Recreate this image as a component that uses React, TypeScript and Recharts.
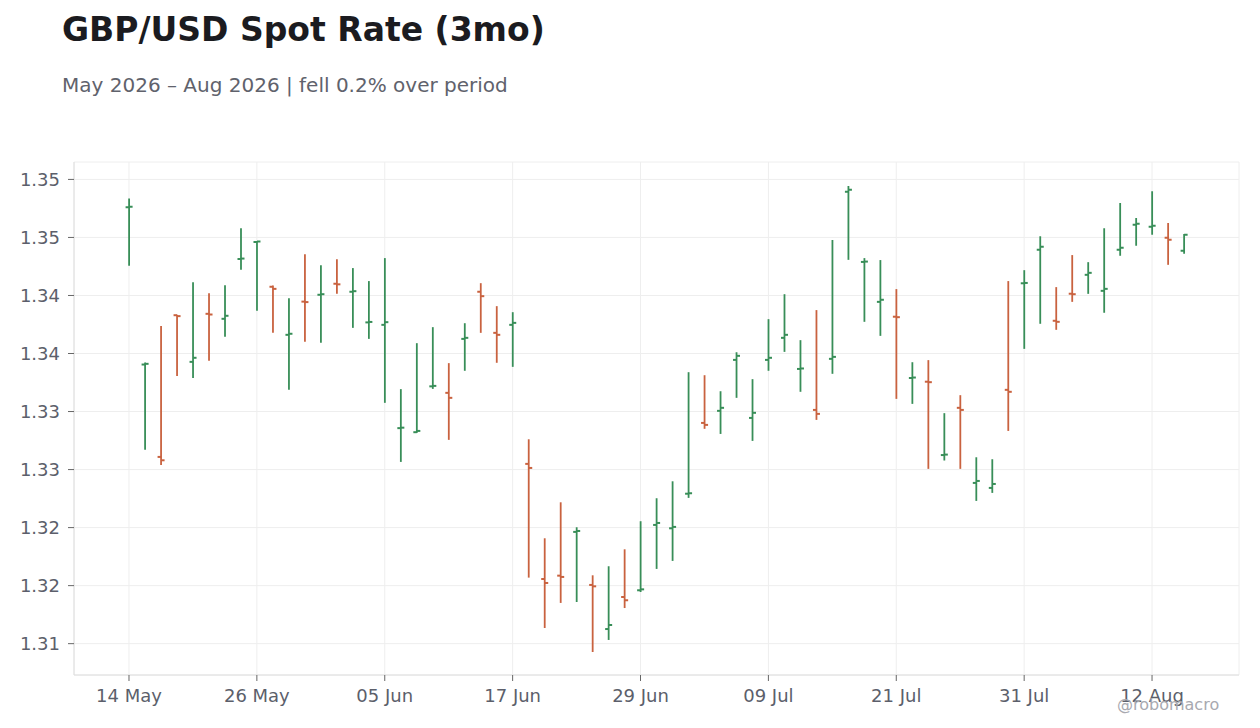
import { Bar, CartesianGrid, ComposedChart, XAxis, YAxis } from "recharts"

// business days, 14 May - 14 Aug 2026
const days = [
  "14 May", "15 May", "18 May", "19 May", "20 May", "21 May", "22 May", "25 May",
  "26 May", "27 May", "28 May", "29 May", "01 Jun", "02 Jun", "03 Jun", "04 Jun",
  "05 Jun", "08 Jun", "09 Jun", "10 Jun", "11 Jun", "12 Jun", "15 Jun", "16 Jun",
  "17 Jun", "18 Jun", "19 Jun", "22 Jun", "23 Jun", "24 Jun", "25 Jun", "26 Jun",
  "29 Jun", "30 Jun", "01 Jul", "02 Jul", "03 Jul", "06 Jul", "07 Jul", "08 Jul",
  "09 Jul", "10 Jul", "13 Jul", "14 Jul", "15 Jul", "16 Jul", "17 Jul", "20 Jul",
  "21 Jul", "22 Jul", "23 Jul", "24 Jul", "27 Jul", "28 Jul", "29 Jul", "30 Jul",
  "31 Jul", "03 Aug", "04 Aug", "05 Aug", "06 Aug", "07 Aug", "10 Aug", "11 Aug",
  "12 Aug", "13 Aug", "14 Aug",
]

const opens = [
  1.3476, 1.33405, 1.32609, 1.3383, 1.33428, 1.33842, 1.33799, 1.34314,
  1.3446, 1.34075, 1.33661, 1.33947, 1.34006, 1.34101, 1.34032, 1.33768,
  1.33747, 1.32857, 1.32822, 1.33217, 1.33161, 1.33626, 1.34032, 1.33678,
  1.33747, 1.32549, 1.31557, 1.31586, 1.31963, 1.31506, 1.31126, 1.31402,
  1.3146, 1.32023, 1.31994, 1.32292, 1.32902, 1.33006, 1.33445, 1.32945,
  1.33445, 1.33635, 1.33367, 1.33014, 1.33454, 1.34894, 1.34289, 1.33945,
  1.33817, 1.33289, 1.33257, 1.32625, 1.33032, 1.32385, 1.32342, 1.33187,
  1.34105, 1.34394, 1.33782, 1.34015, 1.34178, 1.3404, 1.34394, 1.34609,
  1.34592, 1.34497, 1.34385,
]

const highs = [
  1.34836, 1.33422, 1.33736, 1.33833, 1.34115, 1.3402, 1.34089, 1.3458,
  1.34466, 1.34086, 1.33977, 1.34356, 1.34261, 1.34313, 1.34236, 1.34124,
  1.34322, 1.33193, 1.33589, 1.33727, 1.33417, 1.33761, 1.34106, 1.33908,
  1.33856, 1.32761, 1.31908, 1.32218, 1.32003, 1.31589, 1.31667, 1.31813,
  1.32055, 1.32253, 1.32399, 1.33339, 1.33313, 1.33175, 1.33511, 1.33279,
  1.33796, 1.34011, 1.33615, 1.33874, 1.34477, 1.34943, 1.34322, 1.34305,
  1.34055, 1.33425, 1.33443, 1.32986, 1.33141, 1.32606, 1.32589, 1.34124,
  1.34218, 1.34511, 1.34072, 1.34348, 1.34287, 1.3458, 1.34796, 1.34667,
  1.34899, 1.34624, 1.34529,
]

const lows = [
  1.34256, 1.3267, 1.3254, 1.33307, 1.3329, 1.33437, 1.33644, 1.34221,
  1.33868, 1.33678, 1.33187, 1.33601, 1.33592, 1.34014, 1.33721, 1.33626,
  1.33075, 1.32566, 1.32816, 1.33195, 1.32756, 1.33351, 1.33678, 1.3342,
  1.33385, 1.31569, 1.31135, 1.31351, 1.31359, 1.30928, 1.31032, 1.31307,
  1.31445, 1.31644, 1.31713, 1.32256, 1.32851, 1.32807, 1.33118, 1.32747,
  1.33351, 1.33514, 1.3317, 1.32928, 1.33325, 1.34307, 1.33773, 1.33652,
  1.33109, 1.33066, 1.32506, 1.32578, 1.32506, 1.3223, 1.32299, 1.32833,
  1.3354, 1.33756, 1.33704, 1.33945, 1.34014, 1.33851, 1.34342, 1.34428,
  1.34523, 1.34264, 1.34359,
]

const closes = [
  1.34765, 1.33411, 1.3258, 1.33822, 1.33463, 1.33836, 1.33825, 1.34318,
  1.34465, 1.34057, 1.3367, 1.33943, 1.34011, 1.34096, 1.34037, 1.33772,
  1.3377, 1.32861, 1.32833, 1.33221, 1.33118, 1.33635, 1.33994, 1.33661,
  1.33764, 1.32514, 1.31523, 1.31575, 1.31971, 1.31494, 1.31161, 1.31374,
  1.31468, 1.3204, 1.32006, 1.32296, 1.32885, 1.33032, 1.3348, 1.32989,
  1.33463, 1.33661, 1.33371, 1.3298, 1.33471, 1.34911, 1.34292, 1.33963,
  1.33813, 1.33293, 1.33253, 1.32629, 1.33014, 1.32402, 1.32376, 1.3317,
  1.34108, 1.3442, 1.33773, 1.34011, 1.34195, 1.34057, 1.34411, 1.34618,
  1.34601, 1.3448, 1.34523,
]

const xTicks = ["14 May", "26 May", "05 Jun", "17 Jun", "29 Jun", "09 Jul", "21 Jul", "31 Jul", "12 Aug"]
const yTicks = [1.31, 1.315, 1.32, 1.325, 1.33, 1.335, 1.34, 1.345, 1.35]
const yTickLabels = ["1.31", "1.32", "1.32", "1.33", "1.33", "1.34", "1.34", "1.35", "1.35"]

const UP = "#388e58"
const DOWN = "#c9623f"
const TEXT = "#5c5f6b"
const BORDER = "#dedede"

const data = days.map((day, i) => ({
  day,
  open: opens[i],
  high: highs[i],
  low: lows[i],
  close: closes[i],
  range: [lows[i], highs[i]],
}))

function OhlcShape(props: any) {
  const { x, y, width, height, payload } = props
  if (!payload) return null
  const top = Math.min(y, y + height)
  const bottom = Math.max(y, y + height)
  const cx = x + width / 2
  const span = payload.high - payload.low
  const toY = (v: number) => top + ((payload.high - v) / span) * (bottom - top)
  const color = payload.close >= payload.open ? UP : DOWN
  const yo = toY(payload.open)
  const yc = toY(payload.close)
  return (
    <g stroke={color}>
      <line x1={cx} x2={cx} y1={top} y2={bottom} strokeWidth={1.8} />
      <line x1={cx - 3.5} x2={cx} y1={yo} y2={yo} strokeWidth={2} />
      <line x1={cx} x2={cx + 3.5} y1={yc} y2={yc} strokeWidth={2} />
    </g>
  )
}

export default function App() {
  return (
    <div
      style={{
        position: "fixed",
        top: 0,
        left: 0,
        width: 1260,
        height: 728,
        background: "#ffffff",
        fontFamily: "'DejaVu Sans', sans-serif",
      }}
    >
      <div
        style={{
          position: "absolute",
          left: 62,
          top: 13,
          fontSize: 33,
          lineHeight: 1,
          fontWeight: "bold",
          color: "#1b1b20",
          whiteSpace: "nowrap",
        }}
      >
        GBP/USD Spot Rate (3mo)
      </div>
      <div
        style={{
          position: "absolute",
          left: 62,
          top: 75,
          fontSize: 20,
          lineHeight: 1,
          color: "#60626c",
          whiteSpace: "nowrap",
        }}
      >
        May 2026 – Aug 2026 | fell 0.2% over period
      </div>
      <ComposedChart
        width={1260}
        height={728}
        data={data}
        margin={{ top: 162, right: 21, bottom: 23, left: 14 }}
        style={{ position: "absolute", top: 0, left: 0 }}
      >
        <CartesianGrid stroke="#eeeeee" />
        <XAxis
          dataKey="day"
          type="category"
          ticks={xTicks}
          interval={0}
          padding={{ left: 47, right: 47 }}
          height={30}
          tick={{ fill: TEXT, fontSize: 18 }}
          tickSize={6}
          tickMargin={8}
          tickLine={{ stroke: "#666" }}
          axisLine={{ stroke: BORDER }}
        />
        <XAxis
          xAxisId="top"
          dataKey="day"
          orientation="top"
          height={0}
          tick={false}
          tickLine={false}
          axisLine={{ stroke: BORDER }}
        />
        <YAxis
          type="number"
          domain={[1.3073, 1.3515]}
          ticks={yTicks}
          tickFormatter={(v: number) => yTickLabels[yTicks.indexOf(v)]}
          width={60}
          tick={{ fill: TEXT, fontSize: 18 }}
          tickSize={6}
          tickMargin={8}
          tickLine={{ stroke: "#666" }}
          axisLine={{ stroke: BORDER }}
          allowDataOverflow
        />
        <YAxis
          yAxisId="right"
          orientation="right"
          type="number"
          domain={[1.3073, 1.3515]}
          width={0}
          tick={false}
          tickLine={false}
          axisLine={{ stroke: BORDER }}
        />
        <Bar dataKey="range" shape={OhlcShape} isAnimationActive={false} />
      </ComposedChart>
      <div
        style={{
          position: "absolute",
          left: 1117,
          top: 697,
          fontSize: 16,
          lineHeight: 1,
          color: "#a8a9b0",
          whiteSpace: "nowrap",
        }}
      >
        @robomacro
      </div>
    </div>
  )
}
